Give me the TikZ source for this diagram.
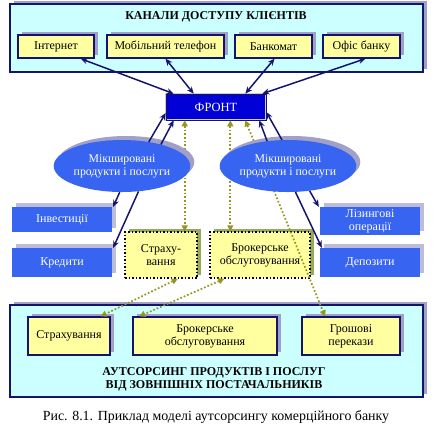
\documentclass[tikz,border=0pt]{standalone}
\usepackage{fontspec}
\setmainfont{Liberation Serif}
\usetikzlibrary{arrows.meta,shapes.geometric,shadows,calc}
\definecolor{navy}{RGB}{20,20,110}
\definecolor{panelc}{RGB}{204,255,255}
\definecolor{ybox}{RGB}{255,255,160}
\definecolor{frontblue}{RGB}{0,0,215}
\definecolor{mblue}{RGB}{55,100,240}
\definecolor{shadec}{RGB}{160,160,200}
\definecolor{gshade}{RGB}{150,170,90}
\definecolor{dotc}{RGB}{150,150,30}
\tikzset{
  x=1pt, y=-1pt,
  boxfont/.style={font=\fontsize{12}{13}\selectfont},
  sh/.style={drop shadow={shadow xshift=4pt, shadow yshift=3pt, fill=shadec, opacity=1}},
  panelbox/.style={draw=navy, line width=1.8pt, fill=panelc, sh, inner sep=0pt},
  chan/.style={draw=navy, line width=1.3pt, fill=ybox, sh, inner sep=0pt, boxfont, minimum height=23pt},
  outb/.style={draw=navy, line width=1.3pt, fill=ybox, sh, inner sep=0pt, align=center, boxfont, minimum height=38pt},
  midb/.style={draw=black, dotted, line width=1.5pt, fill=ybox, inner sep=0pt, align=center, boxfont, minimum height=46pt,
     drop shadow={shadow xshift=4pt, shadow yshift=3pt, fill=gshade, opacity=1}},
  bluebox/.style={fill=mblue, text=white, inner sep=0pt, align=center, minimum width=100pt, boxfont,
     drop shadow={shadow xshift=4pt, shadow yshift=4pt, fill=shadec!70, opacity=1}},
  mix/.style={ellipse, fill=mblue, text=white, inner sep=0pt, align=center, minimum height=52pt, font=\fontsize{11.8}{13}\selectfont,
     drop shadow={shadow xshift=4pt, shadow yshift=4pt, fill=shadec, opacity=1}},
  conn/.style={draw=navy, line width=1.5pt, {Stealth[length=7pt,width=6pt]}-{Stealth[length=7pt,width=6pt]}},
  arr/.style={draw=navy, line width=1.5pt, -{Stealth[length=7pt,width=6pt]}},
  dotarrow/.style={draw=dotc, dotted, line width=1.7pt, {Triangle[length=6pt,width=6pt,fill=dotc]}-{Triangle[length=6pt,width=6pt,fill=dotc]}},
  ttl/.style={font=\bfseries\fontsize{12}{13}\selectfont, align=center, inner sep=0pt}
}
\begin{document}
\begin{tikzpicture}
\useasboundingbox (0,0) rectangle (435,429);
% panels
\node[panelbox, minimum width=413pt, minimum height=68pt] (top) at (216.5,38) {};
\node[ttl] (ttop) at (216,17) {КАНАЛИ ДОСТУПУ КЛІЄНТІВ};
\node[panelbox, minimum width=413pt, minimum height=92pt] (bot) at (216.5,351) {};
\node[ttl] (tbot) at (214,379) {АУТСОРСИНГ ПРОДУКТІВ І ПОСЛУГ\\ВІД ЗОВНІШНІХ ПОСТАЧАЛЬНИКІВ};
% channels
\node[chan, minimum width=76pt] (inet) at (56,46.5) {Інтернет};
\node[chan, minimum width=117pt] (mob) at (165.5,46.5) {Мобільний телефон};
\node[chan, minimum width=77pt] (bank) at (273.5,46.5) {Банкомат};
\node[chan, minimum width=77pt] (ofis) at (361.5,46.5) {Офіс банку};
% front
\node[draw=white!80!black, double=navy, double distance=0.8pt, line width=0.6pt, fill=frontblue, text=white,
      minimum width=100pt, minimum height=26pt, inner sep=0pt, font=\fontsize{12.5}{13}\selectfont] (front) at (216,107) {ФРОНТ};
% side boxes
\node[bluebox, minimum height=25pt] (inv) at (62,219.5) {Інвестиції};
\node[bluebox, minimum height=29pt] (kred) at (62,262.5) {Кредити};
\node[bluebox, minimum height=28pt] (lis) at (370,221) {Лізингові\\операції};
\node[bluebox, minimum height=29pt] (dep) at (370,262.5) {Депозити};
% middle boxes
\node[midb, minimum width=72pt] (strm) at (161,255) {Страху-\\вання};
\node[midb, minimum width=100pt] (brokm) at (260,255) {Брокерське\\обслуговування};
% bottom boxes
\node[outb, minimum width=82pt] (strb) at (69,336) {Страхування};
\node[outb, minimum width=144pt] (brokb) at (205,336) {Брокерське\\обслуговування};
\node[outb, minimum width=98pt] (gro) at (351,336) {Грошові\\перекази};
% caption
\node[font=\fontsize{13.9}{15}\selectfont, inner sep=0pt] (cap) at (216,417) {Рис. 8.1. Приклад моделі аутсорсингу комерційного банку};
% connectors front-channels
\draw[conn] ([xshift=8pt]front.north west) -- ([xshift=-14pt]inet.south east);
\draw[conn] ([xshift=28pt]front.north west) -- (mob.south);
\draw[conn] ([xshift=-21pt]front.north east) -- ([xshift=1pt]bank.south);
\draw[conn] ([xshift=-4pt]front.north east) -- ([xshift=4pt]ofis.south);
% dotted
\coordinate (d1) at ([xshift=19pt]front.south west);
\coordinate (d2) at ([xshift=-36pt]front.south east);
\coordinate (d3) at ([xshift=-21pt]front.south east);
\draw[dotarrow] (d1) -- (d1 |- strm.north);
\draw[dotarrow] (d2) -- (d2 |- brokm.north);
\draw[dotarrow] (d3) -- ([xshift=-26pt]gro.north);
\draw[dotarrow] ([xshift=-20pt]strm.south east) -- ([xshift=-10pt]strb.north east);
\draw[dotarrow] ([xshift=15pt]brokm.south west) -- ([xshift=7pt]brokb.north west);
% ellipses
\node[mix, minimum width=130pt] (lell) at (122,166) {Мікшировані\\продукти і послуги};
\node[mix, minimum width=132pt] (rell) at (288,166) {Мікшировані\\продукти і послуги};
% ellipse arrows
\draw[arr] (lell.42) -- ([yshift=-6pt]front.west);
\draw[arr] (lell.29) -- ([xshift=8pt]front.south west);
\draw[arr] (rell.130) -- ([xshift=-7pt]front.south east);
\draw[arr] (rell.103) -- ([yshift=-5pt]front.east);
\draw[arr] (lell.-95) -- ([xshift=1pt]inv.north east);
\draw[arr] (lell.-57) -- ([xshift=1pt]kred.north east);
\draw[arr] (rell.-49) -- ([xshift=-1pt]lis.north west);
\draw[arr] (rell.-74) -- ([xshift=2pt]dep.north west);
\end{tikzpicture}
\end{document}
